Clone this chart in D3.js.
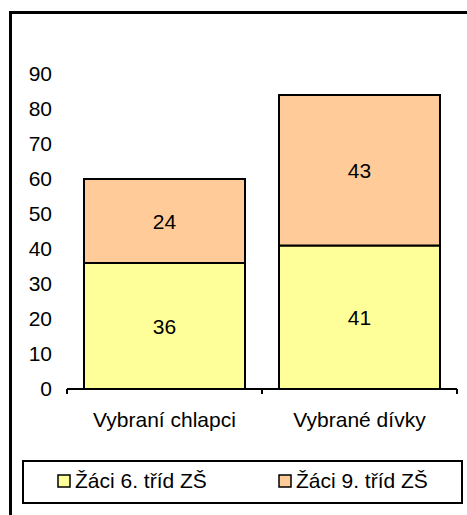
<!DOCTYPE html>
<html>
<head>
<meta charset="utf-8">
<script src="https://cdn.jsdelivr.net/npm/d3@7"></script>
<style>
  body { margin: 0; background: #fff; }
  svg { display: block; font-family: "Liberation Sans", Arial, sans-serif; }
</style>
</head>
<body>
<div id="chart"></div>
<script>
// chart data
var categories = ["Vybraní chlapci", "Vybrané dívky"];
var seriesNames = ["Žáci 6. tříd ZŠ", "Žáci 9. tříd ZŠ"];
var sixthGrade = [36, 41];
var ninthGrade = [24, 43];
var yTicks = [0, 10, 20, 30, 40, 50, 60, 70, 80, 90];
var colors = ["#FFFF99", "#FFCC99"];

var width = 467, height = 515;
var fontSize = 21;

var svg = d3.select("#chart")
    .append("svg")
    .attr("width", width)
    .attr("height", height);

// outer frame (only top and left edges are visible in the picture)
svg.append("path")
    .attr("d", "M10.5,520 L10.5,12.5 L470,12.5")
    .attr("fill", "none")
    .attr("stroke", "#000")
    .attr("stroke-width", 3);

var x = d3.scaleBand()
    .domain(categories)
    .range([67, 457])
    .paddingInner(0)
    .paddingOuter(0);

var y = d3.scaleLinear()
    .domain([0, 90])
    .range([389, 74]);

// stack the two series
var rows = categories.map(function (c, i) {
    return { cat: c, s0: sixthGrade[i], s1: ninthGrade[i] };
});
var stack = d3.stack().keys(["s0", "s1"]);
var layers = stack(rows);

var barInset = 17;

layers.forEach(function (layer, li) {
    var g = svg.append("g");
    g.selectAll("rect")
        .data(layer)
        .enter()
        .append("rect")
            .attr("x", function (d) { return x(d.data.cat) + barInset; })
            .attr("width", x.bandwidth() - 2 * barInset)
            .attr("y", function (d) { return y(d[1]); })
            .attr("height", function (d) { return y(d[0]) - y(d[1]); })
            .attr("fill", colors[li])
            .attr("stroke", "#000")
            .attr("stroke-width", 2);

    g.selectAll("text")
        .data(layer)
        .enter()
        .append("text")
            .attr("x", function (d) { return x(d.data.cat) + x.bandwidth() / 2; })
            .attr("y", function (d) { return (y(d[0]) + y(d[1])) / 2 + 7.5; })
            .attr("text-anchor", "middle")
            .attr("font-size", fontSize)
            .text(function (d) { return d[1] - d[0]; });
});

// y axis: labels only, no line
var yAxis = d3.axisLeft(y)
    .tickValues(yTicks)
    .tickSize(0)
    .tickPadding(0);
var yg = svg.append("g")
    .attr("transform", "translate(52,0)")
    .call(yAxis);
yg.select(".domain").remove();
yg.selectAll("text")
    .attr("font-size", fontSize)
    .attr("font-family", "Liberation Sans, Arial, sans-serif")
    .attr("fill", "#000")
    .attr("dy", null)
    .attr("y", 6);

// x axis with ticks at category boundaries
var xg = svg.append("g")
    .attr("transform", "translate(0,389)");
xg.append("line")
    .attr("x1", x.range()[0])
    .attr("x2", x.range()[1])
    .attr("stroke", "#000")
    .attr("stroke-width", 2);
var bounds = [x.range()[0], x(categories[1]), x.range()[1]];
xg.selectAll(".tk")
    .data(bounds)
    .enter()
    .append("line")
        .attr("class", "tk")
        .attr("x1", function (d) { return d; })
        .attr("x2", function (d) { return d; })
        .attr("y1", 0)
        .attr("y2", 5)
        .attr("stroke", "#000")
        .attr("stroke-width", 2);
xg.selectAll(".lbl")
    .data(categories)
    .enter()
    .append("text")
        .attr("class", "lbl")
        .attr("x", function (d) { return x(d) + x.bandwidth() / 2; })
        .attr("y", 38)
        .attr("text-anchor", "middle")
        .attr("font-size", fontSize)
        .text(function (d) { return d; });

// legend
var legend = svg.append("g");
legend.append("rect")
    .attr("x", 23)
    .attr("y", 461)
    .attr("width", 439)
    .attr("height", 42)
    .attr("fill", "#fff")
    .attr("stroke", "#000")
    .attr("stroke-width", 2);

var legendX = [58, 279];
seriesNames.forEach(function (name, i) {
    legend.append("rect")
        .attr("x", legendX[i])
        .attr("y", 475)
        .attr("width", 12)
        .attr("height", 12)
        .attr("fill", colors[i])
        .attr("stroke", "#000")
        .attr("stroke-width", 1.5);
    legend.append("text")
        .attr("x", legendX[i] + 17)
        .attr("y", 488)
        .attr("font-size", fontSize)
        .text(name);
});
</script>
</body>
</html>
